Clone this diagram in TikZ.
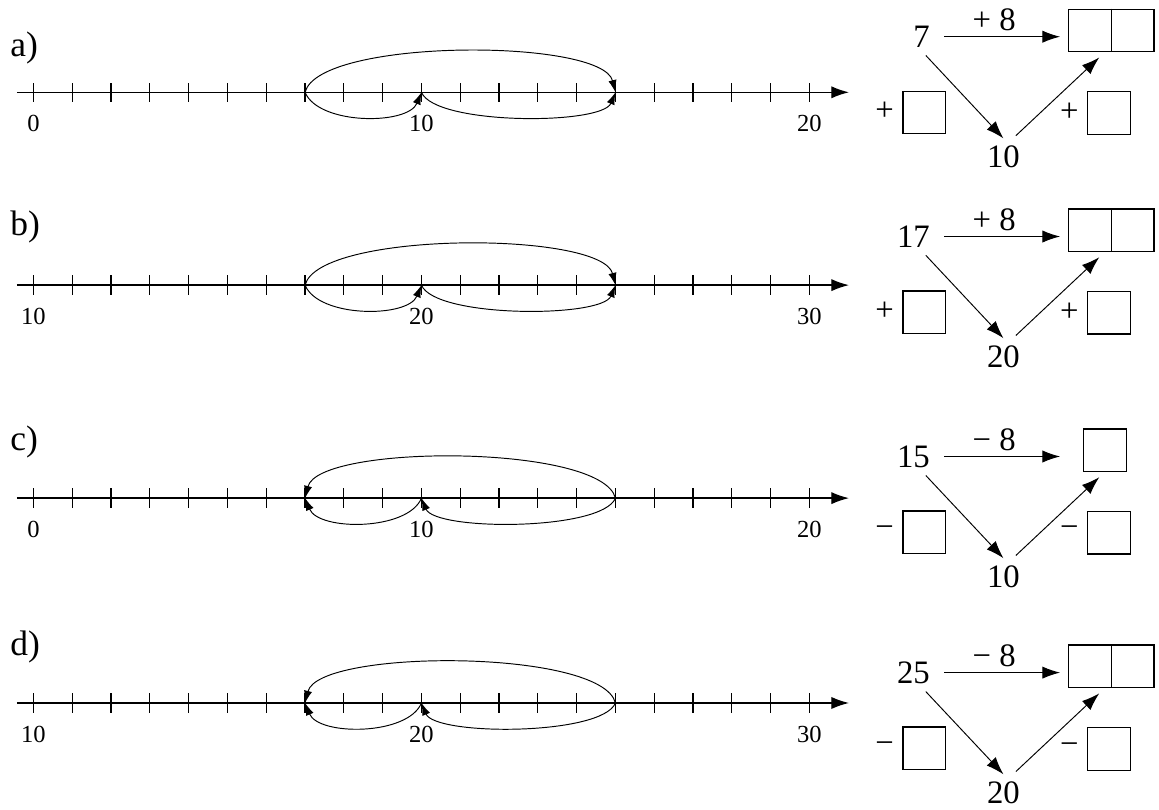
\documentclass[tikz,border=0pt]{standalone}
\usepackage{fontspec}
\setmainfont{Liberation Serif}
\usetikzlibrary{arrows.meta}
\tikzstyle{numtxt}=[font=\fontsize{18}{18}\selectfont, inner sep=0pt]
\tikzstyle{bigtxt}=[font=\fontsize{24}{24}\selectfont, inner sep=0pt]
\tikzstyle{rowtxt}=[font=\fontsize{26}{26}\selectfont, inner sep=0pt, anchor=west]
\tikzstyle{blank}=[draw, line width=0.85pt, minimum width=1.1cm, minimum height=1.1cm, inner sep=0pt]
\tikzstyle{jump}=[line width=0.7pt, -{Latex[length=9pt,width=6pt]}]
\tikzstyle{go}=[line width=0.7pt, -{Latex[length=13pt,width=9pt]}]

\begin{document}
\begin{tikzpicture}
  \useasboundingbox (-0.863,2.379) rectangle (29.01,-18.497);
  \foreach \r/\ya/\yl/\lo/\md/\hi/\p/\q/\s/\t in {a/0/1.14/0/10/20/7/15/0.35/-0.35, b/-4.97/-3.47/10/20/30/7/15/0.35/-0.35, c/-10.46/-9.01/0/10/20/15/7/-0.35/0.35, d/-15.74/-14.30/10/20/30/15/7/-0.35/0.35} {
    \node[rowtxt] (lab\r) at (-0.6,\yl) {\r)};
    \draw [line width=1pt,-{Latex[length=13pt,width=9pt]}] (-0.43,\ya) -- (21.02,\ya);
    \foreach \i in {0,...,20} {
      \coordinate (\r\i) at (\i,\ya);
      \draw [line width=0.9pt] (\i,\ya-0.25) -- (\i,\ya+0.25);
    }
    \node[numtxt] (lo\r) at (0,\ya-0.8) {\lo};
    \node[numtxt] (md\r) at (10,\ya-0.8) {\md};
    \node[numtxt] (hi\r) at (20,\ya-0.8) {\hi};
    \draw [jump] (\r\p) .. controls +(\s,1.4) and +(\t,1.4) .. (\r\q);
    \draw [jump] (\r\p) .. controls +(\s,-0.85) and +(\t,-0.85) .. (\r10);
    \draw [jump] (\r10) .. controls +(\s,-0.85) and +(\t,-0.85) .. (\r\q);
  }
  \foreach \r/\yd/\st/\op/\mn/\bx/\bw in {a/0/7/+/10/27.78/2.2, b/-5.15/17/+/20/27.78/2.2, c/-10.82/15/−/10/27.62/1.1, d/-16.39/25/−/20/27.78/2.2} {
    \begin{scope}[yshift=\yd cm]
      \node[bigtxt,anchor=east] (st\r) at (23.11,1.433) {\st};
      \node[bigtxt] (mid\r) at (25.0,-1.66) {\mn};
      \node[blank,minimum width=\bw cm] (res\r) at (\bx,1.593) {};
      \ifdim \bw pt>2pt \draw [line width=0.85pt] (res\r.north) -- (res\r.south); \fi
      \coordinate (end\r) at (26.46,1.433);
      \draw [go,shorten <=0.36cm] (st\r.east) -- (end\r);
      \node[bigtxt] (op\r) at (24.76,1.863) {\op{} 8};
      \draw [go] ([xshift=-0.11cm,yshift=-0.2cm]st\r.south east) -- ([yshift=0.18cm]mid\r.north);
      \draw [go] ([xshift=0.32cm,yshift=0.25cm]mid\r.north) -- ([xshift={(27.47-\bx)*1cm},yshift=-0.13cm]res\r.south);
      \node[blank] (lb\r) at (22.96,-0.52) {};
      \node[bigtxt] (ls\r) at (21.94,-0.50) {\op};
      \node[blank] (rb\r) at (27.72,-0.53) {};
      \node[bigtxt] (rs\r) at (26.70,-0.515) {\op};
    \end{scope}
  }
\end{tikzpicture}
\end{document}
